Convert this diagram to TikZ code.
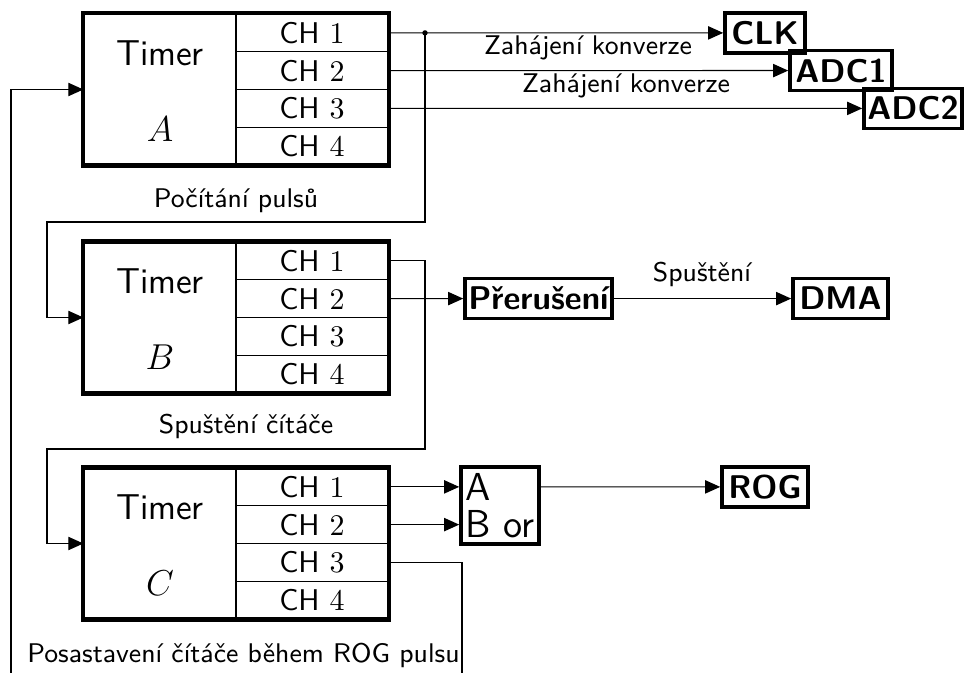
\documentclass[tikz,border=0pt]{standalone}
\usetikzlibrary{arrows.meta}
\begin{document}
\begin{tikzpicture}[x=0.33333pt, y=-0.33333pt,
  every node/.style={font=\sffamily},
  arr/.style={-{Triangle[length=5pt,width=4.4pt]}},
  frame/.style={draw, line width=1.4pt},
  cell/.style={draw, line width=0.4pt, minimum width=50.67pt, minimum height=12.58pt,
    inner sep=0pt, font=\sffamily\fontsize{10}{12}\selectfont},
  blk/.style={minimum width=50.67pt, minimum height=50.33pt, inner sep=0pt},
  big/.style={inner sep=0pt, font=\sffamily\fontsize{12}{14}\selectfont},
  gate/.style={inner sep=0pt, font=\sffamily\fontsize{13}{15}\selectfont},
  tbox/.style={draw, line width=1.2pt, minimum height=13.33pt, inner sep=0pt,
    font=\sffamily\bfseries\fontsize{10.95}{13}\selectfont},
  lbl/.style={font=\sffamily\fontsize{9}{11}\selectfont, inner sep=0pt, anchor=base},
]
\useasboundingbox (0,0) rectangle (965,673);

% the three timers, each with four channels
\foreach \n/\ty in {A/14, B/242, C/468} {
  \node[blk] (T\n) at (160, \ty+75.5) {};
  \node[big] (T\n name) at (160, \ty+39) {Timer};
  \node[inner sep=0pt, font=\fontsize{13}{15}\selectfont] (T\n id) at (160, \ty+115) {$\n$};
  \foreach \k in {1,...,4}
    \node[cell] (\n\k) at (312, \ty+37.75*\k-18.875) {\raisebox{-0.6pt}{CH $\k$}};
  \draw[frame] (T\n.north west) rectangle (\n4.south east);
}

% targets
\node[tbox, minimum width=26.67pt] (CLK)  at (765, 32.9)  {CLK};
\node[tbox, minimum width=34pt]    (ADC1) at (841, 70.6)  {ADC1};
\node[tbox, minimum width=32.67pt] (ADC2) at (913, 108.4) {ADC2};
\node[tbox, minimum width=49pt]    (INT)  at (538.5, 298.6) {Přerušení};
\node[tbox, minimum width=31.7pt]  (DMA)  at (840.5, 298.6) {DMA};
\node[tbox, minimum width=28.67pt] (ROG)  at (765, 486.9) {ROG};
\node[draw, line width=1.2pt, minimum width=26pt, minimum height=25.67pt, inner sep=0pt]
  (ABor) at (500, 505.5) {};
\node[gate, anchor=base west] (ABa) at (465, 500) {A};
\node[gate, anchor=base west] (ABb) at (465, 537) {B or};

% labels
\node[lbl] (lA) at (236, 208) {Počítání pulsů};
\node[lbl] (lB) at (246, 433) {Spuštění čítáče};
\node[lbl] (lC) at (243.5, 662) {Posastavení čítáče během ROG pulsu};
\node[lbl] (z1) at (588, 55) {Zahájení konverze};
\node[lbl] (z2) at (626, 93) {Zahájení konverze};
\node[lbl] (sp) at (702, 282) {Spuštění};

% connectors
\coordinate (jA)   at (425, 32.9);
\coordinate (kAB)  at (47, 222);
\coordinate (kBC1) at (425, 449);
\coordinate (kBC2) at (47, 449);
\coordinate (sA)   at (11, 673);
\coordinate (sC)   at (462, 673);

\draw[arr] (A1.east) -- (CLK.west);
\fill (jA) circle (0.9pt);
\draw[arr] (A2.east) -- (ADC1.west);
\draw[arr] (A3.east) -- (ADC2.west);
\draw[arr] (jA) |- (kAB) |- (TB.west);
\draw[arr] (sA) |- (TA.west);
\draw[arr] (B1.east) -| (kBC1) -- (kBC2) |- (TC.west);
\draw[arr] (B2.east) -- (INT.west);
\draw[arr] (INT.east) -- (DMA.west);
\draw[arr] (C1.east) -- (C1.east -| ABor.west);
\draw[arr] (C2.east) -- (C2.east -| ABor.west);
\draw[arr] (C1.east -| ABor.east) -- (ROG.west);
\draw (C3.east) -| (sC);
\end{tikzpicture}
\end{document}
